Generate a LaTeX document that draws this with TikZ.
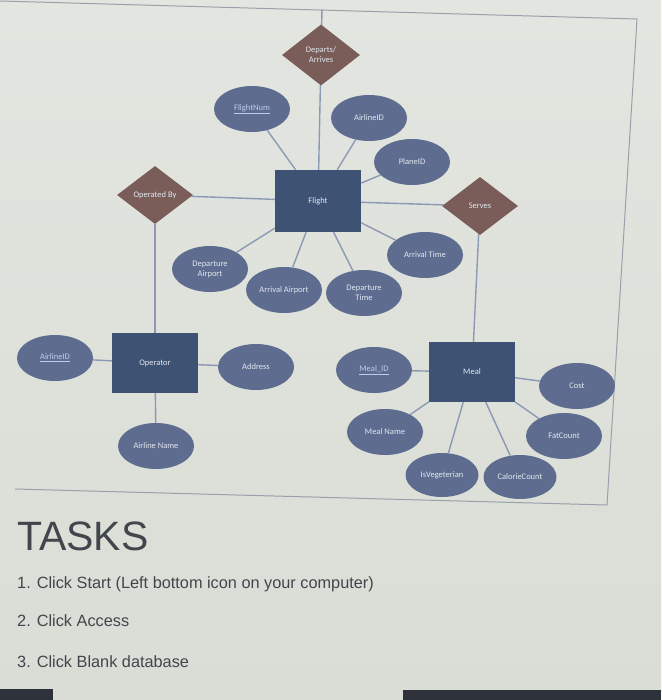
\documentclass[tikz,border=0pt]{standalone}
\usepackage{fontspec}
\setmainfont{Liberation Sans}
\newfontfamily\erfont{Carlito}
\usepackage{xcolor}
\usetikzlibrary{shapes.geometric}

\definecolor{paper}{HTML}{E3E6E0}
\definecolor{paperlow}{HTML}{D9DDD5}
\definecolor{entfill}{HTML}{3E5274}
\definecolor{attfill}{HTML}{5E6D8F}
\definecolor{relfill}{HTML}{7A5D59}
\definecolor{linkcol}{HTML}{8B99B5}
\definecolor{labelcol}{HTML}{E2E7F0}
\definecolor{keycol}{HTML}{BACCF0}
\definecolor{framecol}{HTML}{98A1AA}
\definecolor{taskcol}{HTML}{41464C}
\definecolor{barcol}{HTML}{2E333B}

\begin{document}
\begin{tikzpicture}[
    x=1pt, y=-1pt,
    entity/.style={rectangle, fill=entfill, minimum width=86pt,
        minimum height=60pt, inner sep=0pt, text=labelcol,
        font=\erfont\fontsize{8.5}{10}\selectfont},
    attrib/.style={ellipse, fill=attfill, minimum width=76pt,
        minimum height=46pt, inner sep=0pt, align=center, text=labelcol,
        font=\erfont\fontsize{8.5}{10}\selectfont},
    keyattr/.style={attrib, text=keycol},
    rel/.style={diamond, fill=relfill, minimum width=76pt,
        minimum height=58pt, inner sep=0pt, align=center, text=labelcol,
        font=\erfont\fontsize{8.5}{10}\selectfont},
    conn/.style={draw=linkcol, line width=1.4pt},
    task/.style={anchor=base west, inner sep=0pt, text=taskcol,
        font=\fontsize{16.3}{19}\selectfont}
]
% screen background and frame of the diagram
\shade[top color=paper, bottom color=paperlow] (0,0) rectangle (661,700);
\useasboundingbox (0,0) rectangle (661,700);
\draw[framecol, line width=1pt] (0,1) -- (637,19) -- (607,505);
\draw[framecol, line width=1pt] (15,489) -- (607,505);

% flight
\node[rel, minimum width=78pt, minimum height=61pt] (depart) at (321,55) {Departs/\\Arrives};
\coordinate (departtop) at (322,9);
\node[entity, minimum height=62pt] (flight) at (318,201) {Flight};
\node[keyattr] (flightnum) at (252,109) {\underline{FlightNum}};
\node[attrib] (fairline) at (369,118) {AirlineID};
\node[attrib] (plane) at (412,162) {PlaneID};
\node[rel] (operated) at (155,195) {Operated By};
\node[rel] (serves) at (480,206) {Serves};
\node[attrib] (depair) at (210,269) {Departure\\Airport};
\node[attrib] (arrair) at (284,290) {Arrival Airport};
\node[attrib] (deptime) at (364,293) {Departure\\Time};
\node[attrib] (arrtime) at (425,255) {Arrival Time};

% operator
\node[entity] (operator) at (155,363) {Operator};
\node[keyattr] (oairline) at (55,358) {\underline{AirlineID}};
\node[attrib] (address) at (256,367) {Address};
\node[attrib] (aname) at (156,446) {Airline Name};

% meal
\node[entity] (meal) at (472,372) {Meal};
\node[keyattr] (mealid) at (374,370) {\underline{Meal\_ID}};
\node[attrib] (cost) at (577,386) {Cost};
\node[attrib] (fat) at (564,436) {FatCount};
\node[attrib] (mname) at (385,432) {Meal Name};
\node[attrib, minimum width=73pt, minimum height=44pt] (veg) at (442,475) {IsVegeterian};
\node[attrib, minimum width=73pt, minimum height=44pt] (calorie) at (520,477) {CalorieCount};

\draw[conn] (depart) -- (departtop);
\foreach \a/\b in {depart/flight, flightnum/flight, fairline/flight,
    plane/flight, operated/flight, flight/serves, flight/depair,
    flight/arrair, flight/deptime, flight/arrtime, operated/operator,
    serves/meal, oairline/operator, operator/address, operator/aname,
    mealid/meal, meal/cost, meal/fat, meal/mname, meal/veg, meal/calorie}
    \draw[conn] (\a) -- (\b);

% tasks
\node[task, font=\fontsize{41}{45}\selectfont] (tasks) at (17,550) {TASKS};
\node[task] (taskone) at (17,588) {1. Click Start (Left bottom icon on your computer)};
\node[task] (tasktwo) at (17,626) {2. Click Access};
\node[task] (taskthree) at (17,667) {3. Click Blank database};

% task bar
\fill[barcol] (0,689) rectangle (53,700);
\fill[barcol] (403,690) rectangle (661,700);
\end{tikzpicture}
\end{document}
